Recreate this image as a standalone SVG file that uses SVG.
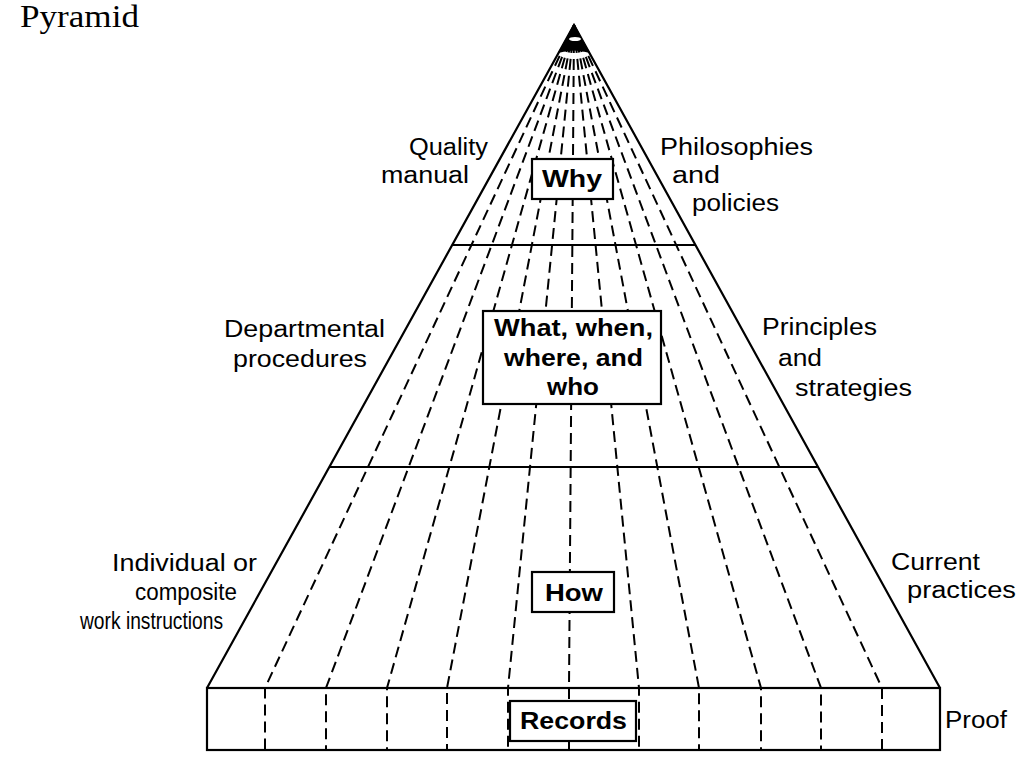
<svg xmlns="http://www.w3.org/2000/svg" width="1024" height="768" viewBox="0 0 1024 768">
<style>
.solid{fill:none;stroke:#000;stroke-width:2.2;stroke-linejoin:miter}
.dash{fill:none;stroke:#000;stroke-width:2;stroke-dasharray:11 6}
.box{fill:#fff;stroke:#000;stroke-width:2.2}
.lbl{font-family:"Liberation Sans",Arial,sans-serif;font-size:23px;fill:#000}
.bold{font-family:"Liberation Sans",Arial,sans-serif;font-size:24px;font-weight:bold;fill:#000}
.title{font-family:"Liberation Serif","Times New Roman",serif;font-size:31px;fill:#000}
</style>
<rect width="1024" height="768" fill="#fff"/>
<text class="title" x="20" y="27" textLength="119" lengthAdjust="spacingAndGlyphs">Pyramid</text>
<g id="connectors">
  <g id="dividers">
    <path class="dash" d="M574,25 L265,688 L265,750"/>
    <path class="dash" d="M574,25 L326,688 L326,750"/>
    <path class="dash" d="M574,25 L387,688 L387,750"/>
    <path class="dash" d="M574,25 L447,688 L447,750"/>
    <path class="dash" d="M574,25 L508,688 L508,750"/>
    <path class="dash" d="M574,25 L569,688 L569,750"/>
    <path class="dash" d="M574,25 L639,688 L639,750"/>
    <path class="dash" d="M574,25 L699,688 L699,750"/>
    <path class="dash" d="M574,25 L761,688 L761,750"/>
    <path class="dash" d="M574,25 L821,688 L821,750"/>
    <path class="dash" d="M574,25 L882,688 L882,750"/>
  </g>
  <g id="outline">
    <path class="solid" d="M207,688 L574,25 L940,688"/>
    <line class="solid" x1="452" y1="245" x2="696" y2="245"/>
    <line class="solid" x1="329" y1="467" x2="818" y2="467"/>
    <rect class="solid" x="207" y="688" width="733" height="62"/>
  </g>
  <g id="apex">
    <path d="M574,24 L558,53 Q574,48 590,53 Z" fill="#000"/>
    <ellipse cx="575" cy="39" rx="6" ry="2" fill="#fff"/>
  </g>
</g>
<g id="node-why">
  <rect class="box" x="532" y="159" width="81" height="40"/>
  <text class="bold" x="542" y="187" textLength="60" lengthAdjust="spacingAndGlyphs">Why</text>
</g>
<g id="node-what">
  <rect class="box" x="483" y="311" width="178" height="93"/>
  <text class="bold" x="494" y="336" textLength="159" lengthAdjust="spacingAndGlyphs">What, when,</text>
  <text class="bold" x="504" y="366" textLength="139" lengthAdjust="spacingAndGlyphs">where, and</text>
  <text class="bold" x="547" y="395" textLength="52" lengthAdjust="spacingAndGlyphs">who</text>
</g>
<g id="node-how">
  <rect class="box" x="532" y="572" width="82" height="40"/>
  <text class="bold" x="545" y="601" textLength="58" lengthAdjust="spacingAndGlyphs">How</text>
</g>
<g id="node-records">
  <rect class="box" x="510" y="701" width="126" height="40"/>
  <text class="bold" x="520" y="729" textLength="107" lengthAdjust="spacingAndGlyphs">Records</text>
</g>
<g id="label-quality-manual">
  <text class="lbl" x="409" y="155" textLength="79" lengthAdjust="spacingAndGlyphs">Quality</text>
  <text class="lbl" x="381" y="183" textLength="88" lengthAdjust="spacingAndGlyphs">manual</text>
</g>
<g id="label-philosophies">
  <text class="lbl" x="660" y="155" textLength="153" lengthAdjust="spacingAndGlyphs">Philosophies</text>
  <text class="lbl" x="672" y="183" textLength="48" lengthAdjust="spacingAndGlyphs">and</text>
  <text class="lbl" x="692" y="211" textLength="87" lengthAdjust="spacingAndGlyphs">policies</text>
</g>
<g id="label-departmental">
  <text class="lbl" x="224" y="337" textLength="161" lengthAdjust="spacingAndGlyphs">Departmental</text>
  <text class="lbl" x="233" y="367" textLength="134" lengthAdjust="spacingAndGlyphs">procedures</text>
</g>
<g id="label-principles">
  <text class="lbl" x="762" y="335" textLength="115" lengthAdjust="spacingAndGlyphs">Principles</text>
  <text class="lbl" x="778" y="366" textLength="44" lengthAdjust="spacingAndGlyphs">and</text>
  <text class="lbl" x="795" y="396" textLength="117" lengthAdjust="spacingAndGlyphs">strategies</text>
</g>
<g id="label-individual">
  <text class="lbl" x="112" y="571" textLength="145" lengthAdjust="spacingAndGlyphs">Individual or</text>
  <text class="lbl" x="135" y="600" textLength="102" lengthAdjust="spacingAndGlyphs">composite</text>
  <text class="lbl" x="80" y="629" textLength="143" lengthAdjust="spacingAndGlyphs">work instructions</text>
</g>
<g id="label-current">
  <text class="lbl" x="891" y="570" textLength="89" lengthAdjust="spacingAndGlyphs">Current</text>
  <text class="lbl" x="907" y="598" textLength="109" lengthAdjust="spacingAndGlyphs">practices</text>
</g>
<g id="label-proof">
  <text class="lbl" x="945" y="728" textLength="62" lengthAdjust="spacingAndGlyphs">Proof</text>
</g>
</svg>
